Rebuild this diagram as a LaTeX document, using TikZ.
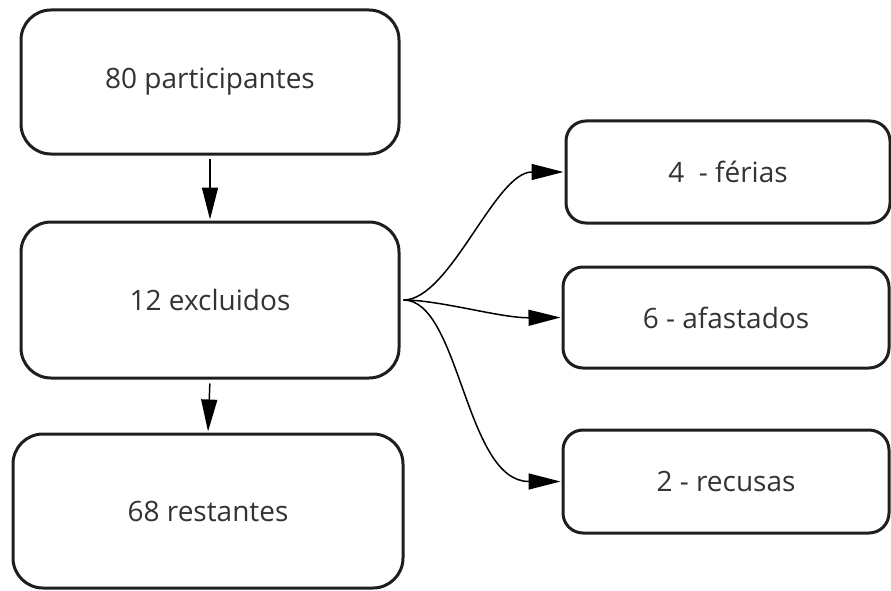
\documentclass[tikz,border=0pt]{standalone}
\usepackage{fontspec}
\setmainfont{Open Sans}
\usetikzlibrary{arrows.meta}
\definecolor{txt}{HTML}{333333}
\definecolor{edge}{HTML}{1E1E1E}
\tikzset{
  bigbox/.style={draw=edge, line width=3pt, rounded corners=30pt, fill=white,
    text=txt, font=\fontsize{28}{32}\selectfont, inner sep=0pt},
  smallbox/.style={draw=edge, line width=3pt, rounded corners=20pt, fill=white,
    text=txt, font=\fontsize{28}{32}\selectfont, inner sep=0pt},
  conn/.style={draw=black, line width=1.5pt, -{Triangle[length=32pt,width=16pt]}}
}
\begin{document}
\begin{tikzpicture}[x=1pt,y=-1pt]
\useasboundingbox (0,0) rectangle (891,591);
\node[bigbox, minimum width=378pt, minimum height=144pt] (p) at (210,82) {80 participantes};
\node[bigbox, minimum width=378pt, minimum height=156pt] (e) at (210,300) {12 excluidos};
\node[bigbox, minimum width=390pt, minimum height=154pt] (r) at (208,511) {68 restantes};
\node[smallbox, minimum width=324pt, minimum height=102pt] (f) at (728,172) {4~ - férias};
\node[smallbox, minimum width=326pt, minimum height=101pt] (a) at (726,317.5) {6 - afastados};
\node[smallbox, minimum width=326pt, minimum height=103pt] (c) at (726,481.5) {2 - recusas};
\draw[conn, shorten <=3pt, shorten >=1pt] (p.south) -- (e.north);
\draw[conn, shorten <=4pt, shorten >=1pt] (e.south) -- (r.north);
\coordinate (s) at ([xshift=3pt]e.east);
\draw[conn, shorten >=1pt] (s) .. controls (450,300) and (495,172) .. (f.west);
\draw[conn, shorten >=1pt] (s) .. controls (440,300) and (500,318) .. (a.west);
\draw[conn, shorten >=1pt] (s) .. controls (460,300) and (465,481.5) .. (c.west);
\end{tikzpicture}
\end{document}
